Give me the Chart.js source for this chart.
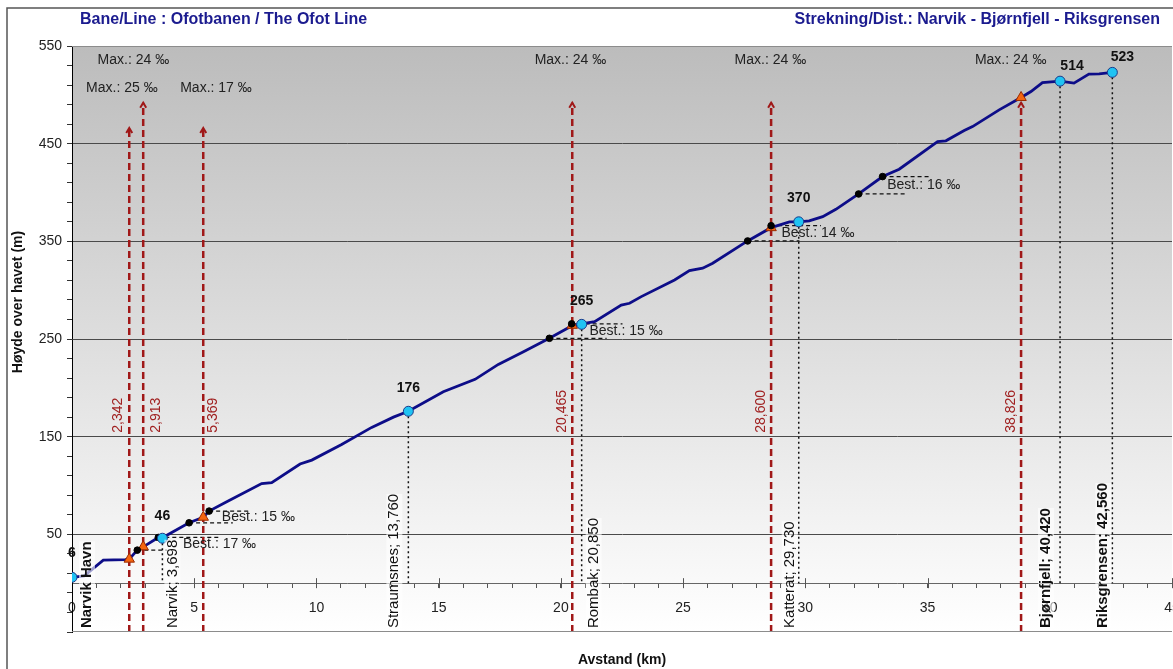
<!DOCTYPE html>
<html>
<head>
<meta charset="utf-8">
<title>Ofotbanen - høydeprofil</title>
<script src="https://cdn.jsdelivr.net/npm/chart.js@4.4.1/dist/chart.umd.min.js"></script>
<style>
  html, body { margin: 0; padding: 0; background: #fff; overflow: hidden; }
  #wrap { width: 1173px; height: 669px; overflow: hidden; }
  canvas { display: block; }
</style>
</head>
<body>
<div id="wrap"><canvas id="profile" width="1220" height="669"></canvas></div>
<script>
const FONT = '"Liberation Sans", Arial, sans-serif';

// height profile of the line, km from Narvik Havn / metres above sea level
const profileKm = [0, 0.5, 1.28, 2.17, 2.342, 2.67, 2.913, 3.53, 3.698, 4.79, 5.369, 5.61, 6.33, 7.76, 8.17,
  9.33, 9.81, 11.03, 12.26, 13.15, 13.76, 15.19, 16.49, 17.44, 18.47, 19.53, 20.38, 20.465, 20.85, 21.38,
  22.47, 22.81, 23.29, 24.65, 25.26, 25.8, 26.21, 27.64, 28.6, 29.35, 29.73, 30.16, 30.71, 31.25, 32.18,
  33.16, 33.84, 35.41, 35.75, 36.5, 36.84, 37.93, 38.826, 39.23, 39.7, 40.42, 40.99, 41.6, 42.02, 42.56];
const profileHeight = [6, 7.5, 23.5, 24.2, 24.6, 33.8, 37.2, 46.8, 46.5, 61.8, 67.5, 73.8, 83.3, 102, 103,
  122, 126, 142, 159.5, 170, 176, 196, 208.7, 224, 237, 250.7, 262.6, 264, 265.4, 267.7,
  284.8, 286.6, 293.4, 310.5, 320, 322.5, 327.6, 350.4, 364, 370, 370, 370.9, 375.3, 382.8, 398.5,
  416.3, 423.8, 452.2, 452.9, 463.4, 467.5, 484.6, 497.3, 503.4, 512.6, 514, 512, 521.2, 521.5, 523];

// stations
const stationKm = [0, 3.698, 13.76, 20.85, 29.73, 40.42, 42.56];
const stationHeight = [6, 46, 176, 265, 370, 514, 523];
const stationNames = ['Narvik Havn', 'Narvik; 3,698', 'Straumsnes; 13,760', 'Rombak; 20,850',
  'Katterat; 29,730', 'Bjørnfjell; 40,420', 'Riksgrensen; 42,560'];

// steepest gradient points
const maxKm = [2.342, 2.913, 5.369, 20.465, 28.6, 38.826];
const maxHeight = [24.6, 37.2, 67.5, 264, 364, 497.3];
const maxArrowTop = [466, 492, 466, 492, 492, 492];
const maxKmLabels = ['2,342', '2,913', '5,369', '20,465', '28,600', '38,826'];
const maxTexts = ['Max.: 24 ‰', 'Max.: 25 ‰', 'Max.: 17 ‰', 'Max.: 24 ‰', 'Max.: 24 ‰', 'Max.: 24 ‰'];
const maxTextKm = [2.51, 2.04, 5.89, 20.39, 28.57, 38.4];
const maxTextHeight = [536, 507, 507, 536, 536, 536];

// decisive gradient sections
const bestFromKm = [2.67, 4.79, 19.53, 27.64, 32.18];
const bestFromHeight = [33.8, 61.8, 250.7, 350.4, 398.5];
const bestToKm = [3.53, 5.61, 20.44, 28.6, 33.16];
const bestToHeight = [46.8, 73.8, 265.5, 366, 416.3];
const bestLowEndKm = [3.88, 6.58, 21.87, 29.76, 34.16];
const bestHighEndKm = [6.05, 7.28, 22.52, 30.64, 35.1];
const bestTexts = ['Best.: 17 ‰', 'Best.: 15 ‰', 'Best.: 15 ‰', 'Best.: 14 ‰', 'Best.: 16 ‰'];
const bestTextKm = [4.54, 6.13, 21.17, 29.02, 33.35];

const pts = (xs, ys) => xs.map((x, i) => ({ x: x, y: ys[i] }));

const datasets = [
  { data: pts(stationKm, stationHeight), showLine: false, pointRadius: 5, pointBackgroundColor: '#1fc3f3',
    pointBorderColor: '#1d3a8a', pointBorderWidth: 1, order: 0 },
  { data: pts(bestFromKm.concat(bestToKm), bestFromHeight.concat(bestToHeight)), showLine: false,
    pointRadius: 3.3, pointBackgroundColor: '#000', pointBorderColor: '#000', order: 1 },
  { data: pts(maxKm, maxHeight), showLine: false, pointStyle: 'triangle', pointRadius: 6,
    pointBackgroundColor: '#f5650f', pointBorderColor: '#9a2a00', pointBorderWidth: 1, order: 2 },
  { data: pts(profileKm, profileHeight), borderColor: '#0d0d88', borderWidth: 2.8, pointRadius: 0, order: 3 }
];
maxKm.forEach((k, i) => datasets.push({
  data: [{ x: k, y: -50 }, { x: k, y: maxArrowTop[i] }],
  borderColor: '#a01818', borderWidth: 2.5, borderDash: [7, 4], pointRadius: 0, order: 4
}));
bestFromKm.forEach((k, i) => {
  datasets.push({ data: [{ x: k, y: bestFromHeight[i] }, { x: bestLowEndKm[i], y: bestFromHeight[i] }],
    borderColor: '#111', borderWidth: 1.3, borderDash: [4, 3], pointRadius: 0, order: 5 });
  datasets.push({ data: [{ x: bestToKm[i], y: bestToHeight[i] }, { x: bestHighEndKm[i], y: bestToHeight[i] }],
    borderColor: '#111', borderWidth: 1.3, borderDash: [4, 3], pointRadius: 0, order: 5 });
});
stationKm.forEach((k, i) => datasets.push({
  data: [{ x: k, y: stationHeight[i] }, { x: k, y: 0 }],
  borderColor: '#111', borderWidth: 1.5, borderDash: [2, 3], pointRadius: 0, order: 6
}));

const text = (ctx, str, x, y, font, color, align, rot) => {
  ctx.save();
  ctx.translate(x, y);
  if (rot) ctx.rotate(rot);
  ctx.font = font;
  ctx.fillStyle = color;
  ctx.textAlign = align || 'center';
  ctx.textBaseline = 'middle';
  ctx.fillText(str, 0, 0);
  ctx.restore();
};

const decor = {
  id: 'decor',
  beforeDraw(chart) {
    const { ctx, chartArea: a } = chart;
    ctx.save();
    ctx.fillStyle = '#fff';
    ctx.fillRect(0, 0, chart.width, chart.height);
    const g = ctx.createLinearGradient(0, a.top, 0, a.bottom);
    g.addColorStop(0, '#bcbcbc');
    g.addColorStop(1, '#ffffff');
    ctx.fillStyle = g;
    ctx.fillRect(a.left, a.top, a.right - a.left, a.bottom - a.top);
    // frame
    ctx.strokeStyle = '#555';
    ctx.lineWidth = 1.5;
    ctx.beginPath();
    ctx.moveTo(7, chart.height);
    ctx.lineTo(7, 8);
    ctx.lineTo(chart.width, 8);
    ctx.stroke();
    ctx.restore();
  },
  afterDraw(chart) {
    const { ctx, chartArea: a } = chart;
    const xs = chart.scales.x, ys = chart.scales.y;
    const px = v => xs.getPixelForValue(v), py = v => ys.getPixelForValue(v);
    ctx.save();

    // top / bottom border of plot
    ctx.strokeStyle = '#8c8c8c';
    ctx.lineWidth = 1;
    ctx.beginPath();
    ctx.moveTo(a.left, a.top + 0.5); ctx.lineTo(a.right, a.top + 0.5);
    ctx.moveTo(a.left, a.bottom - 0.5); ctx.lineTo(a.right, a.bottom - 0.5);
    ctx.stroke();

    // major x ticks crossing the axis
    ctx.strokeStyle = '#555';
    ctx.beginPath();
    for (let k = 5; k <= 45; k += 5) {
      ctx.moveTo(Math.round(px(k)) + 0.5, py(0) - 5);
      ctx.lineTo(Math.round(px(k)) + 0.5, py(0) + 5);
    }
    ctx.stroke();

    // arrow heads on the max gradient lines
    ctx.strokeStyle = '#a01818';
    ctx.lineWidth = 2;
    maxKm.forEach((k, i) => {
      const x = px(k), y = py(maxArrowTop[i]);
      ctx.beginPath();
      ctx.moveTo(x - 3, y + 5); ctx.lineTo(x, y); ctx.lineTo(x + 3, y + 5);
      ctx.stroke();
    });

    // km labels of max gradient lines
    const maxSide = [-11, 13, 10, -10, -10, -10];
    maxKm.forEach((k, i) => {
      text(ctx, maxKmLabels[i], px(k) + maxSide[i], py(154), '14px ' + FONT, '#a02020', 'left', -Math.PI / 2);
    });
    maxTexts.forEach((t, i) => {
      text(ctx, t, px(maxTextKm[i]), py(maxTextHeight[i]), '14px ' + FONT, '#222', 'center');
    });

    // gradient section texts
    bestTexts.forEach((t, i) => {
      text(ctx, t, px(bestTextKm[i]), py((bestFromHeight[i] + bestToHeight[i]) / 2), '14px ' + FONT, '#222', 'left');
    });

    // station heights
    const hdx = [0, 0, 0, 0, 0, 12, 10];
    const hdy = [24, 22, 23, 23, 24, 15, 15];
    stationKm.forEach((k, i) => {
      text(ctx, String(stationHeight[i]), px(k) + hdx[i], py(stationHeight[i]) - hdy[i], 'bold 14px ' + FONT, '#111', 'center');
    });

    // station names
    const sdx = [15, 10, -14, 12, -9, -14, -9];
    const bold = [true, false, false, false, false, true, true];
    stationNames.forEach((n, i) => {
      const font = (bold[i] ? 'bold ' : '') + '15px ' + FONT;
      ctx.font = font;
      const w = ctx.measureText(n).width;
      const x = px(stationKm[i]) + sdx[i], y = py(-46);
      ctx.fillStyle = 'rgba(255,255,255,0.6)';
      ctx.fillRect(x - 8, y - w, 16, w);
      text(ctx, n, x, y, font, '#111', 'left', -Math.PI / 2);
    });

    // titles
    text(ctx, 'Bane/Line : Ofotbanen / The Ofot Line', 80, 20, 'bold 16px ' + FONT, '#1b1b8f', 'left');
    text(ctx, 'Strekning/Dist.: Narvik - Bjørnfjell - Riksgrensen', 1160, 20, 'bold 16px ' + FONT, '#1b1b8f', 'right');
    text(ctx, 'Avstand (km)', (a.left + a.right) / 2, 660, 'bold 14px ' + FONT, '#111', 'center');
    text(ctx, 'Høyde over havet (m)', 18, 302, 'bold 14px ' + FONT, '#111', 'center', -Math.PI / 2);
    ctx.restore();
  }
};

Chart.defaults.font.family = FONT;

new Chart(document.getElementById('profile'), {
  type: 'line',
  data: { datasets: datasets },
  options: {
    responsive: false,
    animation: false,
    layout: { padding: { left: 0, right: 48, top: 46, bottom: 37 } },
    plugins: { legend: { display: false }, tooltip: { enabled: false } },
    scales: {
      x: {
        type: 'linear',
        position: { y: 0 },
        min: 0,
        max: 45,
        border: { color: '#666', width: 1 },
        grid: { drawOnChartArea: false, tickLength: 4, tickColor: '#555' },
        ticks: {
          stepSize: 1, autoSkip: false, maxRotation: 0, padding: 13,
          color: '#222', font: { size: 14 },
          callback: v => (v % 5 === 0 ? v : '')
        }
      },
      y: {
        min: -50,
        max: 550,
        afterFit: s => { s.width = 72; },
        border: { color: '#000', width: 1 },
        grid: {
          tickLength: 5,
          tickColor: '#333',
          color: c => {
            const v = Math.round(c.tick.value);
            if (v === 550) return '#8c8c8c';
            return [50, 150, 250, 350, 450].includes(v) ? '#4a4a4a' : 'rgba(0,0,0,0)';
          }
        },
        ticks: {
          stepSize: 20, autoSkip: false, padding: 5,
          color: '#222', font: { size: 14 },
          callback: v => (Math.round(v) >= 50 && (Math.round(v) - 50) % 100 === 0 ? Math.round(v) : '')
        }
      }
    }
  },
  plugins: [decor]
});
</script>
</body>
</html>
